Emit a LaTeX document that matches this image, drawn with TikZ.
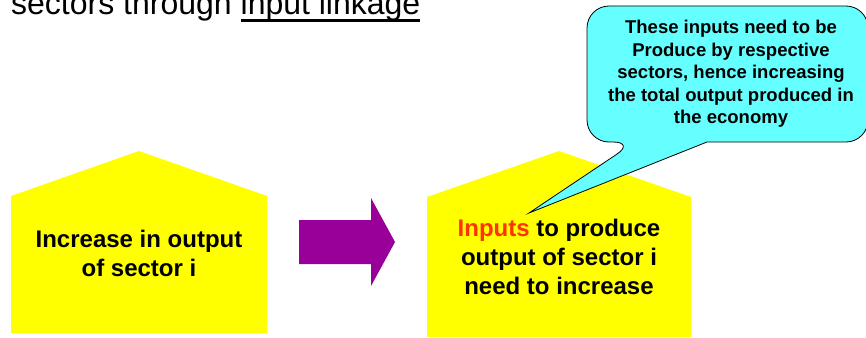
\documentclass[tikz,border=0pt]{standalone}
\usepackage{fontspec}
\setmainfont{Liberation Sans}
\definecolor{yellowc}{HTML}{FFFF00}
\definecolor{purplec}{HTML}{990099}
\definecolor{cyanc}{HTML}{66FFFF}
\definecolor{redc}{HTML}{FF3300}
\newcommand{\myul}[1]{\setbox0\hbox{#1}\rlap{\rule[-6.6pt]{\wd0}{2.8pt}}\box0}
\begin{document}
\begin{tikzpicture}[x=1pt,y=-1pt,
  house/.style={fill=yellowc, draw=none},
  bigarrow/.style={fill=purplec, draw=none},
  callout/.style={fill=cyanc, draw=black, line width=0.8pt, line join=miter},
  lbl/.style={font=\bfseries\fontsize{24}{29}\selectfont, align=center, inner sep=0pt},
  ctext/.style={font=\bfseries\fontsize{18.5}{22.5}\selectfont, align=center, inner sep=0pt}]
\useasboundingbox (0,0) rectangle (866,337);
% title (partly cut off at the top)
\node[anchor=base west, font=\fontsize{32}{38}\selectfont, inner sep=0pt] (title) at (11,15) {sectors through \myul{input linkage}};
% left house
\path[house] (11,333) -- (11,196) -- (139,151) -- (267,196) -- (267,333) -- cycle;
\node[lbl] (left) at (139,253) {Increase in output\\of sector i};
% arrow
\path[bigarrow] (299,220) -- (371,220) -- (371,198) -- (395,242) -- (371,286) -- (371,264) -- (299,264) -- cycle;
% right house
\path[house] (427,337) -- (427,197) -- (559,151) -- (691,197) -- (691,337) -- cycle;
\node[lbl] (right) at (559,256.6) {\textcolor{redc}{Inputs} to produce\\output of sector i\\need to increase};
% callout
\draw[callout] (707,142) [rounded corners=22pt] -- (868,142) -- (868,6) -- (587,6) -- (587,142) -- (635,142) [sharp corners] -- (529,213) -- cycle;
\node[ctext] (note) at (731,74.2) {These inputs need to be\\Produce by respective\\sectors, hence increasing\\the total output produced in\\the economy};
\end{tikzpicture}
\end{document}
